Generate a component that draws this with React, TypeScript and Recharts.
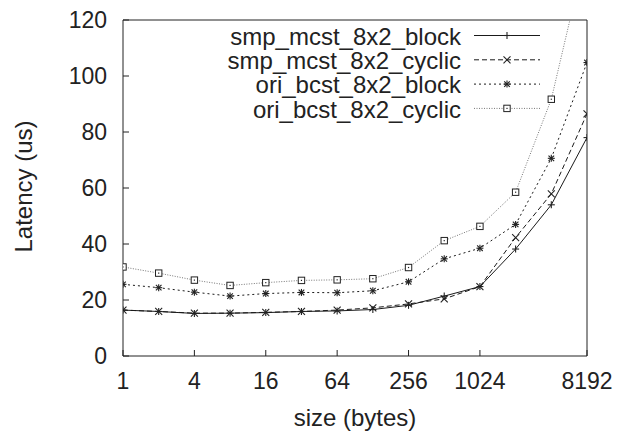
import React from "react";
import { LineChart, Line, XAxis, YAxis, Legend } from "recharts";

const sizes = [1, 2, 4, 8, 16, 32, 64, 128, 256, 512, 1024, 2048, 4096, 8192];
const smpBlock = [16.4, 15.9, 15.2, 15.3, 15.5, 15.9, 16.1, 16.6, 18.1, 21.4, 24.8, 38.2, 54.0, 78.0];
const smpCyclic = [16.4, 15.9, 15.3, 15.3, 15.6, 15.9, 16.4, 17.2, 18.6, 20.4, 24.8, 42.3, 57.9, 86.5];
const oriBlock = [25.6, 24.4, 22.8, 21.4, 22.3, 22.7, 22.6, 23.3, 26.5, 34.7, 38.5, 47.0, 70.6, 104.8];
const oriCyclic = [31.8, 29.6, 27.1, 25.2, 26.2, 27.0, 27.2, 27.6, 31.6, 41.2, 46.3, 58.5, 91.7, 146];

const seriesNames = [
  "smp_mcst_8x2_block",
  "smp_mcst_8x2_cyclic",
  "ori_bcst_8x2_block",
  "ori_bcst_8x2_cyclic",
];
const xTicks = [1, 4, 16, 64, 256, 1024, 8192];
const yTicks = [0, 20, 40, 60, 80, 100, 120];

const data = sizes.map((size, i) => ({
  size,
  smpBlock: smpBlock[i],
  smpCyclic: smpCyclic[i],
  oriBlock: oriBlock[i],
  oriCyclic: oriCyclic[i],
}));

const FONT = "'Liberation Sans', Arial, Helvetica, sans-serif";
const INK = "#222";

type Kind = "plus" | "cross" | "star" | "square";

const SERIES: { key: string; name: string; kind: Kind; stroke: string; dash?: string }[] = [
  { key: "smpBlock", name: seriesNames[0], kind: "plus", stroke: "#1a1a1a" },
  { key: "smpCyclic", name: seriesNames[1], kind: "cross", stroke: "#1a1a1a", dash: "5 3" },
  { key: "oriBlock", name: seriesNames[2], kind: "star", stroke: "#1a1a1a", dash: "2 3" },
  { key: "oriCyclic", name: seriesNames[3], kind: "square", stroke: "#777", dash: "1 1.5" },
];

function Marker({ kind, cx, cy }: { kind: Kind; cx: number; cy: number }) {
  const r = 3.5;
  if (kind === "plus")
    return (
      <g stroke={INK} strokeWidth={1.1}>
        <line x1={cx - r} y1={cy} x2={cx + r} y2={cy} />
        <line x1={cx} y1={cy - r} x2={cx} y2={cy + r} />
      </g>
    );
  if (kind === "cross")
    return (
      <g stroke={INK} strokeWidth={1.1}>
        <line x1={cx - r} y1={cy - r} x2={cx + r} y2={cy + r} />
        <line x1={cx - r} y1={cy + r} x2={cx + r} y2={cy - r} />
      </g>
    );
  if (kind === "star")
    return (
      <g stroke={INK} strokeWidth={1.1}>
        <line x1={cx - r} y1={cy} x2={cx + r} y2={cy} />
        <line x1={cx} y1={cy - r} x2={cx} y2={cy + r} />
        <line x1={cx - r * 0.8} y1={cy - r * 0.8} x2={cx + r * 0.8} y2={cy + r * 0.8} />
        <line x1={cx - r * 0.8} y1={cy + r * 0.8} x2={cx + r * 0.8} y2={cy - r * 0.8} />
      </g>
    );
  return (
    <g>
      <rect x={cx - 3.2} y={cy - 3.2} width={6.4} height={6.4} fill="#fff" stroke={INK} strokeWidth={1} />
      <rect x={cx - 0.6} y={cy - 0.6} width={1.2} height={1.2} fill={INK} />
    </g>
  );
}

// legend drawn gnuplot style: right aligned names, sample line with marker to the right
const renderLegend = () => (
  <svg width={629} height={130} style={{ display: "block", fontFamily: FONT }}>
    {SERIES.map((s, i) => {
      const y = 35.5 + i * 24.3;
      return (
        <g key={s.key}>
          <text x={461} y={y + 9.3} textAnchor="end" fontSize={24} fill={INK}>
            {s.name}
          </text>
          <line x1={474} x2={540} y1={y} y2={y} stroke={s.stroke} strokeDasharray={s.dash} />
          <Marker kind={s.kind} cx={507} cy={y} />
        </g>
      );
    })}
  </svg>
);

export default function App() {
  const tickStyle = { fontSize: 23, fill: INK, fontFamily: FONT };
  return (
    <div style={{ position: "absolute", left: 0, top: 0 }}>
      <LineChart
        width={629}
        height={434}
        data={data}
        margin={{ top: 19, right: 41, bottom: 0, left: 0 }}
        style={{ fontFamily: FONT }}
      >
        <XAxis
          xAxisId="bottom"
          dataKey="size"
          type="number"
          scale="log"
          domain={[1, 8192]}
          ticks={xTicks}
          allowDataOverflow
          height={78}
          tickSize={-6}
          tickMargin={23}
          tick={tickStyle}
          stroke={INK}
          label={(props: any) => {
            const vb = props.viewBox;
            return (
              <text x={vb.x + vb.width / 2} y={vb.y + 70} textAnchor="middle" fontSize={24} fill={INK} fontFamily={FONT}>
                size (bytes)
              </text>
            );
          }}
        />
        <XAxis
          xAxisId="top"
          orientation="top"
          dataKey="size"
          type="number"
          scale="log"
          domain={[1, 8192]}
          ticks={xTicks}
          allowDataOverflow
          height={1}
          tickSize={-6}
          tick={false}
          stroke={INK}
        />
        <YAxis
          yAxisId="left"
          type="number"
          domain={[0, 120]}
          ticks={yTicks}
          allowDataOverflow
          width={123}
          tickSize={-6}
          tickMargin={22}
          tick={tickStyle}
          stroke={INK}
          label={(props: any) => {
            const vb = props.viewBox;
            const cy = vb.y + vb.height / 2 - 1.5;
            return (
              <text
                x={32}
                y={cy}
                transform={`rotate(-90 32 ${cy})`}
                textAnchor="middle"
                fontSize={24}
                fill={INK}
                fontFamily={FONT}
              >
                Latency (us)
              </text>
            );
          }}
        />
        <YAxis
          yAxisId="right"
          orientation="right"
          type="number"
          domain={[0, 120]}
          ticks={yTicks}
          allowDataOverflow
          width={1}
          tickSize={-6}
          tick={false}
          stroke={INK}
        />
        <Legend
          layout="vertical"
          align="center"
          verticalAlign="middle"
          content={renderLegend}
          wrapperStyle={{ position: "absolute", left: 0, top: 0, width: 629, height: 130 }}
        />
        {SERIES.map((s) => (
          <Line
            key={s.key}
            xAxisId="bottom"
            yAxisId="left"
            type="linear"
            dataKey={s.key}
            name={s.name}
            stroke={s.stroke}
            strokeWidth={1}
            strokeDasharray={s.dash}
            isAnimationActive={false}
            dot={(p: any) => <Marker key={`${s.key}-${p.index}`} kind={s.kind} cx={p.cx} cy={p.cy} />}
            activeDot={false}
          />
        ))}
      </LineChart>
    </div>
  );
}
